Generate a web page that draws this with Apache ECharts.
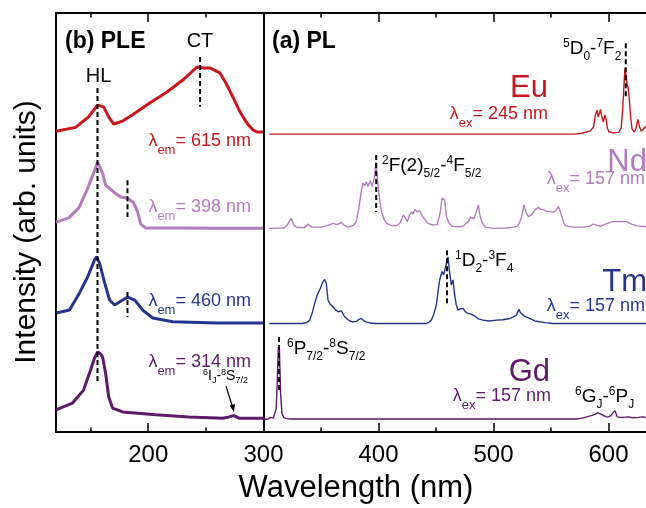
<!DOCTYPE html>
<html><head><meta charset="utf-8">
<script src="https://cdn.jsdelivr.net/npm/echarts@6/dist/echarts.min.js"></script>
<style>html,body{margin:0;padding:0;background:#fff}#c{width:646px;height:508px}</style>
</head><body><div id="c"></div>
<script>
// ---------- DATA (wavelength nm, intensity arb. units, spectra stacked) ----------
const pleEu = [[120,71.8],[137,72.7],[148.3,75.2],[153.5,77.1],[156.1,78.0],[161.3,77.6],[165.7,75.2],[170,73.5],[177.8,74.2],[186.5,75.7],[201.3,78.5],[216,81.1],[230,84.0],[242.2,87.1],[247.4,86.9],[253.5,86.9],[262.2,85.7],[267.4,83.3],[273.5,79.9],[279.6,76.4],[285.7,73.7],[290.9,72.1],[294.3,71.6],[299.6,71.6]];
const pleNd = [[120,50.1],[131.1,51.1],[139.8,53.5],[147.6,58.2],[151.9,61.3],[156.1,64.4],[160.4,61.8],[163,58.9],[170,57.3],[176.1,56.1],[182.2,55.8],[187.4,54.7],[190.9,52.5],[193.5,49.6],[197.8,48.7],[230,48.7],[260,48.6],[299.6,48.6]];
const pleTm = [[120.4,28.4],[131.7,29.1],[140.4,33.2],[147.4,37.0],[153.5,41.1],[155.2,41.8],[157.8,40.3],[162.2,35.6],[166.5,31.5],[170.9,30.3],[177.8,31.5],[182.2,32.2],[188.3,31.5],[195.2,29.1],[203.9,27.2],[221.3,26.3],[259.6,26.0],[299.6,26.0]];
const pleGd = [[120,5.3],[134.3,6.9],[143.9,10.0],[150,14.8],[153.5,17.7],[156.1,19.1],[158.7,18.6],[160.4,17.9],[163,14.1],[165.7,8.4],[169.1,5.7],[177.8,4.8],[206.5,4.1],[235.2,3.6],[264.8,3.3],[270,3.6],[274.3,3.9],[278.7,3.3],[300,3.3]];

const plEu = [[305,71.1],[400,71.1],[500,71.1],[570,71.1],[577,71.3],[584,71.8],[587,72.8],[588.5,75.5],[590,76.8],[591,75.2],[592,76.0],[593,77.0],[594,75.5],[595.5,74.0],[597,75.7],[598,74.5],[599,72.5],[600.5,71.6],[604,71.4],[609,71.5],[611,72.5],[612.3,77.0],[613.3,82.0],[614.3,86.9],[615.3,86.6],[616.3,83.0],[617.2,82.0],[618.2,79.0],[619.3,75.0],[620.5,72.3],[622.5,71.6],[624,72.5],[625.5,74.6],[627,72.8],[628.5,71.8],[630.5,72.3],[632.6,73.0]];
const plNd = [[305,48.6],[318,48.7],[321,49.5],[324,51.0],[326.5,49.3],[329,48.8],[336,48.8],[338.5,49.6],[340.2,50.0],[342,48.9],[350,48.9],[356,49.3],[360.5,49.8],[364,49.5],[367.7,50.0],[370,49.4],[373.5,48.9],[378,49.3],[380.7,50.2],[383,53.5],[385,57.5],[386.5,59.4],[388,58.8],[389.4,59.7],[390.9,58.6],[392.9,60.0],[394.5,58.6],[396.4,60.9],[397.8,64.5],[399,60.5],[400,57.8],[401.5,54.5],[403,52.2],[405,50.6],[407,49.8],[412,49.2],[416,49.3],[419,50.0],[421.6,51.8],[423.5,51.0],[425,50.2],[427,51.8],[428.8,52.6],[430,52.0],[431.7,53.1],[433.7,52.6],[436,52.8],[438,51.6],[440.4,50.7],[443,49.8],[447,49.4],[451,49.5],[453.5,52.2],[455.3,55.8],[457.5,55.4],[459.2,51.4],[461,50.0],[464,49.1],[470,49.0],[474,49.2],[476,49.8],[478.1,50.2],[480,51.2],[481.5,51.0],[483,50.9],[485,52.5],[486.8,54.2],[488,52.0],[489.7,50.2],[492.6,48.9],[500,48.6],[510,48.7],[518,48.9],[521,49.2],[523,50.2],[524.5,51.4],[526.5,54.2],[528.5,52.2],[530.5,51.4],[533,51.8],[536,53.0],[539,53.6],[541,53.2],[543.3,53.0],[546,52.7],[549,52.6],[552,52.4],[554.5,53.0],[556.4,53.8],[558,52.6],[559.5,51.4],[561,50.0],[562.5,49.2],[570,48.9],[578,48.9],[583,49.1],[586.8,49.6],[590,49.3],[593,49.1],[598,49.7],[604,50.2],[610,50.2],[616,50.2],[620,49.6],[624.5,49.2],[632.6,49.0]];
const plTm = [[305,25.9],[334,25.9],[338,26.2],[340.2,26.7],[342.5,28.5],[344.5,30.7],[346.5,32.5],[348.8,33.9],[350.5,35.0],[351.7,35.9],[353.2,36.4],[354.6,35.5],[356.1,31.5],[358,30.5],[360.4,29.9],[362.5,29.2],[364.8,28.7],[366.3,29.0],[367.7,28.9],[369.1,28.7],[370.5,27.5],[372,27.1],[375,26.5],[377.8,26.3],[381,26.4],[383,26.9],[385.1,27.1],[387,26.6],[389.4,26.3],[393,26.0],[398,25.9],[420,25.9],[441.6,25.9],[444,26.2],[445.9,26.7],[448,28.0],[450.3,30.3],[452,34.0],[453.2,36.3],[455.2,38.3],[456.7,37.5],[458.4,39.5],[460.4,41.8],[461.9,37.9],[463.3,35.1],[464.8,36.3],[466.2,32.7],[467.5,30.5],[469.1,29.1],[471,29.4],[473.5,29.5],[475.5,28.7],[477.8,28.3],[480,28.2],[482.2,27.9],[485,27.4],[487,27.0],[490.9,26.7],[496,26.5],[502.5,26.7],[508,26.8],[514.1,27.1],[517,27.4],[519.9,27.9],[521,28.6],[522.2,29.3],[523.3,28.5],[524.2,28.3],[527,27.6],[531.5,27.1],[536,26.5],[540.1,26.3],[545,26.1],[551.7,25.9],[600,25.9],[632.6,25.9]];
const plGd = [[300,3.0],[304,3.1],[306,3.5],[307.1,3.9],[308.5,3.3],[310,3.2],[311,5.5],[312,12.4],[312.9,20.3],[313.8,19.8],[314.9,9.0],[316,4.5],[317.5,3.5],[320,3.2],[323,3.1],[400,3.1],[500,3.1],[560,3.1],[572.3,3.1],[577,3.3],[581,3.6],[585,3.9],[588.3,4.2],[590.5,4.6],[592,4.8],[593.8,4.2],[595.5,3.8],[598,3.6],[599.8,3.6],[602,3.9],[603.6,4.5],[605.6,5.1],[607.6,3.6],[610,3.5],[612.9,3.5],[617,3.6],[621,3.4],[626,3.5],[630,3.6],[632.6,3.5]];

// dashed markers: [wavelength, from, to]
const pleMarks = [[156,82.1,11.9],[245,89.5,77.6],[182,60.1,51.3],[182,33.4,27.4]];
const plMarks = [[615,92.8,80.0],[398,66.1,52.5],[459.6,43.4,30.3],[313.5,22.7,9.3]];

// axis ticks / labels
const pleRange = [120, 300];
const plRange = [300, 632.6];
const pleMajor = [200], pleMinor = [150, 250], pleLabels = [200];
const plMajor = [400, 500, 600], plMinor = [350, 450, 550], plLabels = [300, 400, 500, 600];

const EU = '#c8171e', ND = '#b47cbf', TM = '#27348e', GD = '#5c1a69';
const FONT = '"Liberation Sans", Arial, Helvetica, sans-serif';

// ---------- helpers ----------
const mctx = document.createElement('canvas').getContext('2d');
function tw(t, size, bold) { mctx.font = (bold ? 'bold ' : '') + size + 'px ' + FONT; return mctx.measureText(t).width; }
function label(x, baseline, segs, color, align) {
  const total = segs.reduce((a, s) => a + tw(s[0], s[1], s[3]), 0);
  let cx = align === 'right' ? x - total : align === 'center' ? x - total / 2 : x;
  const els = [];
  segs.forEach(s => {
    const w = tw(s[0], s[1], s[3]);
    els.push({ type: 'text', x: cx, y: baseline + (s[2] || 0) - 0.31 * s[1], silent: true, z: 100,
      style: { text: s[0], fill: color, font: (s[3] ? 'bold ' : '') + s[1] + 'px ' + FONT,
        textAlign: 'left', textVerticalAlign: 'middle', align: 'left', verticalAlign: 'middle' } });
    cx += w;
  });
  return els;
}
function xAx(grid, pos, range, ticks, len, labels, showLine) {
  return { type: 'value', gridIndex: grid, position: pos, min: range[0], max: range[1],
    axisLine: { show: showLine, onZero: false, lineStyle: { color: '#000', width: 2 } },
    axisTick: { show: true, inside: true, length: len, customValues: ticks, lineStyle: { color: '#000', width: 1.5 } },
    axisLabel: labels ? { show: true, customValues: labels, fontSize: 24, color: '#000', fontFamily: FONT, margin: 11, showMinLabel: true, showMaxLabel: true } : { show: false },
    splitLine: { show: false }, minorTick: { show: false } };
}
function yAx(grid) {
  return { type: 'value', gridIndex: grid, min: 0, max: 100, position: 'left',
    axisLine: { show: true, onZero: false, lineStyle: { color: '#000', width: 2 } },
    axisTick: { show: false }, axisLabel: { show: false }, splitLine: { show: false } };
}
function spec(data, color, width, xi, yi) {
  return { type: 'line', data, xAxisIndex: xi, yAxisIndex: yi, symbol: 'none', showSymbol: false,
    lineStyle: { color, width }, itemStyle: { color }, animation: false, silent: true, z: 3 };
}
function dash(m, xi, yi) {
  return { type: 'line', data: [[m[0], m[1]], [m[0], m[2]]], xAxisIndex: xi, yAxisIndex: yi, symbol: 'none',
    lineStyle: { color: '#000', width: 2, type: [5, 3] }, animation: false, silent: true, z: 6 };
}

const series = [
  spec(pleEu, EU, 3, 0, 0), spec(pleNd, ND, 3, 0, 0), spec(pleTm, TM, 3, 0, 0), spec(pleGd, GD, 3, 0, 0),
  spec(plEu, EU, 1.4, 4, 1), spec(plNd, ND, 1.4, 4, 1), spec(plTm, TM, 1.4, 4, 1), spec(plGd, GD, 1.4, 4, 1)
];
pleMarks.forEach(m => series.push(dash(m, 0, 0)));
plMarks.forEach(m => series.push(dash(m, 4, 1)));

const lam = (sub, val) => [['λ', 18], [sub, 13, 7], ['= ' + val + ' nm', 18]];
const s2 = (a, b, c, d, e, f, g) => [[a, 12, -8], [b, 19], [c, 12, 5], ['-', 19], [d, 12, -8], [e, 19], [f, 12, 5]];

let graphics = [];
graphics = graphics.concat(
  label(65, 49, [['(b) PLE', 23, 0, true]], '#000', 'left'),
  label(200, 48, [['CT', 20]], '#000', 'center'),
  label(98.5, 83, [['HL', 20]], '#000', 'center'),
  label(251, 147, lam('em', 615), EU, 'right'),
  label(251, 213, lam('em', 398), ND, 'right'),
  label(251, 307, lam('em', 460), TM, 'right'),
  label(251, 368, lam('em', 314), GD, 'right'),
  label(203, 380, [['6', 9, -5], ['I', 14], ['J', 9, 3], ['-', 14], ['8', 9, -5], ['S', 14], ['7/2', 9, 3]], '#000', 'left'),
  label(272, 49, [['(a) PL', 23, 0, true]], '#000', 'left'),
  label(563, 55, s2('5', 'D', '0', '7', 'F', '2'), '#000', 'left'),
  label(548, 98, [['Eu', 31]], EU, 'right'),
  label(548, 120, lam('ex', 245), EU, 'right'),
  label(382, 172, s2('2', 'F(2)', '5/2', '4', 'F', '5/2'), '#000', 'left'),
  label(647, 172, [['Nd', 31]], ND, 'right'),
  label(645, 185, lam('ex', 157), ND, 'right'),
  label(455, 267, s2('1', 'D', '2', '3', 'F', '4'), '#000', 'left'),
  label(647, 292, [['Tm', 31]], TM, 'right'),
  label(645, 312, lam('ex', 157), TM, 'right'),
  label(287, 355, s2('6', 'P', '7/2', '8', 'S', '7/2'), '#000', 'left'),
  label(550, 382, [['Gd', 31]], GD, 'right'),
  label(551, 402, lam('ex', 157), GD, 'right'),
  label(575, 403, s2('6', 'G', 'J', '6', 'P', 'J'), '#000', 'left')
);
// arrow
graphics.push({ type: 'line', shape: { x1: 226, y1: 386, x2: 232.5, y2: 407 }, style: { stroke: '#000', lineWidth: 1.2 }, silent: true, z: 100 });
graphics.push({ type: 'polygon', shape: { points: [[234, 412], [229.5, 405.5], [235, 404]] }, style: { fill: '#000' }, silent: true, z: 100 });
// axis titles
graphics.push({ type: 'text', x: 27, y: 232, rotation: Math.PI / 2, silent: true, z: 100,
  style: { text: 'Intensity (arb. units)', fill: '#000', font: '30px ' + FONT, textAlign: 'center', textVerticalAlign: 'middle', align: 'center', verticalAlign: 'middle' } });
graphics.push({ type: 'text', x: 356, y: 488, silent: true, z: 100,
  style: { text: 'Wavelength (nm)', fill: '#000', font: '31px ' + FONT, textAlign: 'center', textVerticalAlign: 'middle', align: 'center', verticalAlign: 'middle' } });

const chart = echarts.init(document.getElementById('c'), null, { renderer: 'canvas' });
chart.setOption({
  animation: false,
  backgroundColor: '#fff',
  grid: [
    { left: 56, top: 13, width: 207.5, height: 419 },
    { left: 263.5, top: 13, right: 0, height: 419 }
  ],
  xAxis: [
    xAx(0, 'bottom', pleRange, pleMajor, 9, pleLabels, true),
    xAx(0, 'top', pleRange, pleMajor, 9, null, true),
    xAx(0, 'bottom', pleRange, pleMinor, 4.5, null, false),
    xAx(0, 'top', pleRange, pleMinor, 4.5, null, false),
    xAx(1, 'bottom', plRange, plMajor, 9, plLabels, true),
    xAx(1, 'top', plRange, plMajor, 9, null, true),
    xAx(1, 'bottom', plRange, plMinor, 4.5, null, false),
    xAx(1, 'top', plRange, plMinor, 4.5, null, false)
  ],
  yAxis: [yAx(0), yAx(1)],
  series,
  graphic: graphics
});
</script></body></html>
